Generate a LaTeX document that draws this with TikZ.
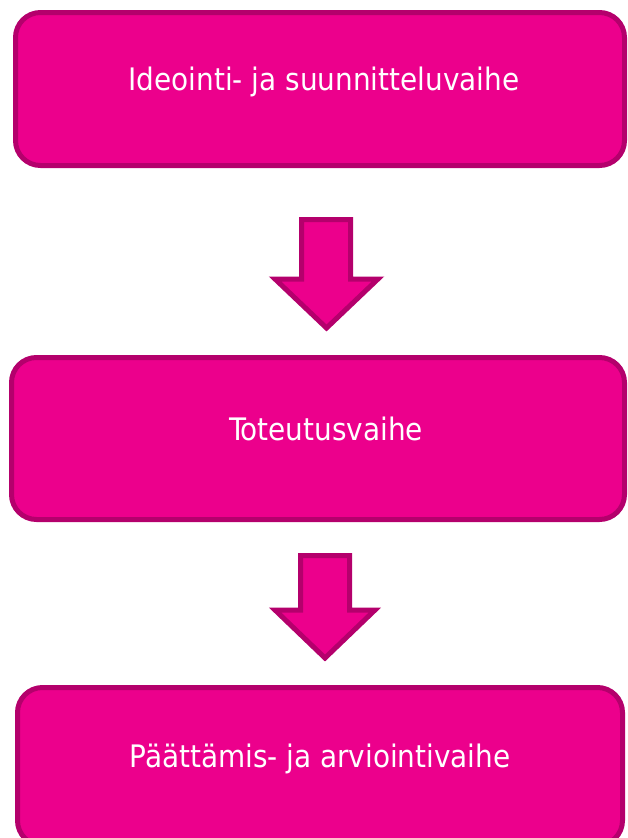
\documentclass[tikz,border=0pt]{standalone}
\usepackage{fontspec}
\setmainfont{DejaVu Sans Condensed}
\definecolor{boxfill}{HTML}{EC008C}
\definecolor{boxline}{HTML}{B4006C}
\tikzset{
  phase/.style={draw=boxline, fill=boxfill, line width=5pt, rounded corners=25pt,
    text=white, font=\fontsize{31}{37}\selectfont, inner sep=0pt, text depth=0pt},
  blockarrow/.style={draw=boxline, fill=boxfill, line width=5pt, line join=miter},
}
\begin{document}
\begin{tikzpicture}[x=1pt,y=-1pt]
\useasboundingbox (0,0) rectangle (628,838);
\node[phase, minimum width=609pt, minimum height=153pt, text height=2pt] (p1) at (320,89)
  {\hspace*{8pt}Ideointi- ja suunnitteluvaihe};
\node[phase, minimum width=613pt, minimum height=162pt, text height=3pt] (p2) at (318,438.5)
  {\hspace*{16pt}Toteutusvaihe};
\node[phase, minimum width=605pt, minimum height=158pt, text height=1pt] (p3) at (320,766.5)
  {Päättämis- ja arviointivaihe};
\draw[blockarrow] (301.5,219.5) -- (350.5,219.5) -- (350.5,279) -- (378,279)
  -- (326.5,328) -- (275,279) -- (301.5,279) -- cycle;
\draw[blockarrow] (300.5,555.5) -- (349.5,555.5) -- (349.5,610) -- (375,610)
  -- (325,658) -- (275,610) -- (300.5,610) -- cycle;
\end{tikzpicture}
\end{document}
